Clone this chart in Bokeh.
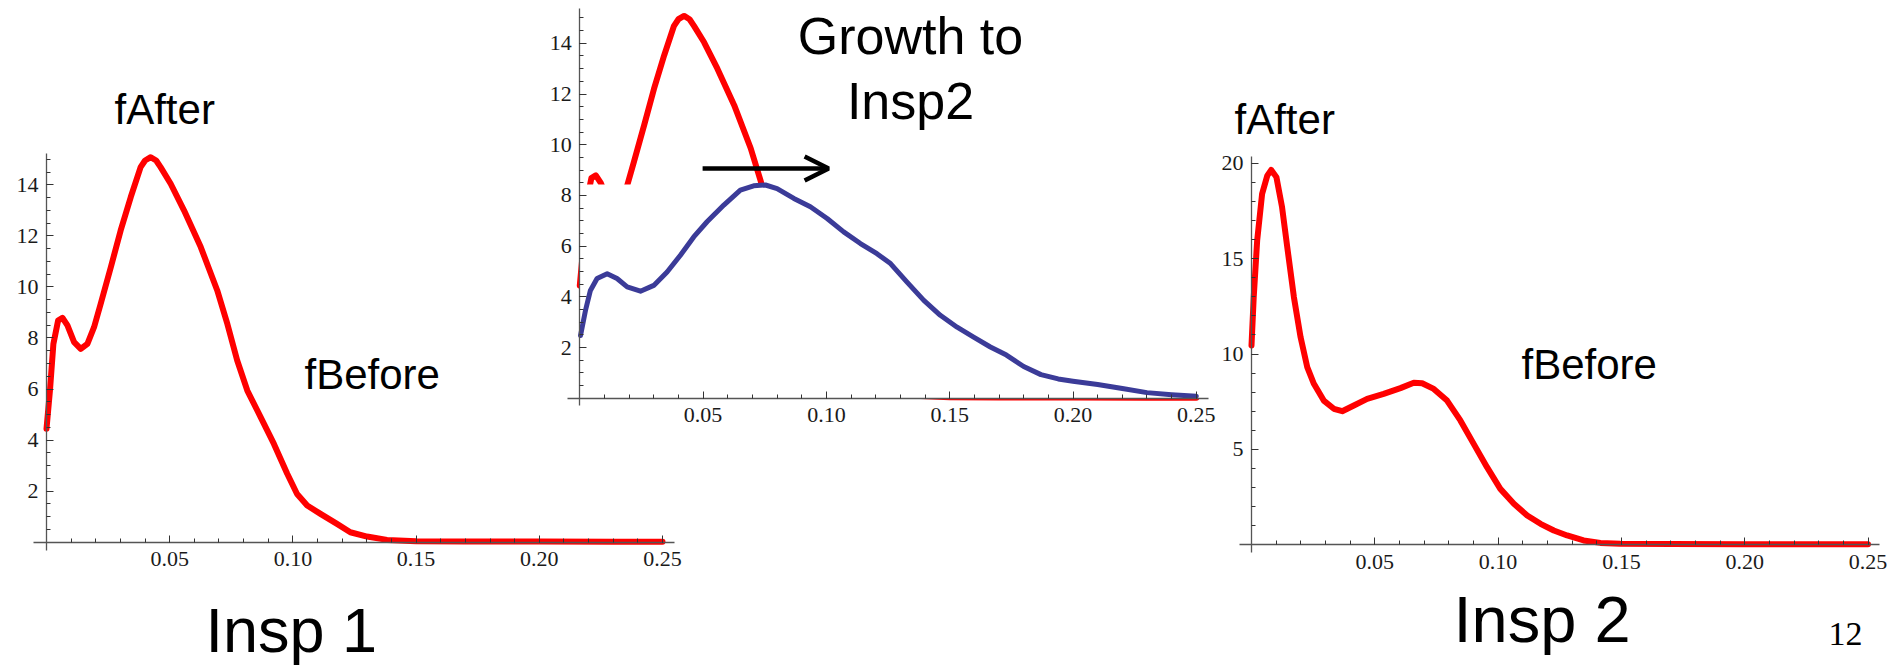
from bokeh.plotting import figure
from bokeh.models import (Range1d, LinearAxis, FixedTicker, NumeralTickFormatter,
                          Label, Arrow, OpenHead)
from bokeh.embed import file_html
from bokeh.resources import INLINE

# ---------------- data ----------------
x_ticks = [0.05, 0.10, 0.15, 0.20, 0.25]
y_ticks_insp1 = [2, 4, 6, 8, 10, 12, 14]
y_ticks_insp2 = [5, 10, 15, 20]

# Insp 1 distribution (red)
insp1_x = [0.0, 0.0014, 0.0028, 0.0047, 0.0065, 0.0085, 0.0112, 0.0139, 0.0166, 0.0193,
           0.022, 0.0261, 0.0301, 0.0342, 0.0382, 0.040, 0.0423, 0.0445, 0.0463, 0.0504,
           0.0558, 0.0626, 0.0693, 0.0734, 0.0774, 0.0815, 0.0869, 0.0923, 0.0977, 0.1017,
           0.1058, 0.1112, 0.1179, 0.1233, 0.1301, 0.1382, 0.150, 0.17, 0.20, 0.23, 0.25]
insp1_y = [4.44, 5.94, 7.77, 8.68, 8.79, 8.49, 7.84, 7.57, 7.77, 8.42,
           9.34, 10.77, 12.21, 13.52, 14.69, 14.95, 15.08, 14.95, 14.69, 14.04,
           13.0, 11.56, 9.86, 8.55, 7.12, 5.94, 4.90, 3.85, 2.68, 1.89,
           1.44, 1.11, 0.72, 0.39, 0.22, 0.09, 0.04, 0.03, 0.03, 0.02, 0.02]

# Growth distribution (blue)
growth_x = [0.0003, 0.0023, 0.0043, 0.007, 0.0111, 0.0151, 0.0192, 0.0246, 0.030, 0.0354,
            0.0408, 0.0462, 0.0516, 0.0584, 0.0651, 0.0705, 0.0753, 0.080, 0.0868, 0.0935,
            0.1003, 0.107, 0.1138, 0.1205, 0.126, 0.1327, 0.1395, 0.1462, 0.153, 0.1597,
            0.1665, 0.173, 0.18, 0.187, 0.194, 0.20, 0.21, 0.22, 0.23, 0.24, 0.25]
growth_y = [2.47, 3.46, 4.25, 4.72, 4.91, 4.72, 4.39, 4.22, 4.45, 4.98,
            5.64, 6.36, 6.96, 7.62, 8.21, 8.38, 8.41, 8.27, 7.88, 7.55,
            7.09, 6.56, 6.10, 5.70, 5.31, 4.58, 3.86, 3.27, 2.80, 2.41,
            2.02, 1.70, 1.25, 0.93, 0.76, 0.67, 0.54, 0.38, 0.22, 0.14, 0.08]

# Insp 2 distribution (red)
insp2_x = [0.0, 0.0009, 0.0023, 0.0043, 0.0064, 0.008, 0.0101, 0.0124, 0.0145, 0.0172,
           0.0199, 0.0226, 0.0253, 0.0293, 0.0334, 0.0368, 0.0415, 0.0469, 0.0536, 0.0604,
           0.0658, 0.0692, 0.0739, 0.0793, 0.0847, 0.0901, 0.0955, 0.1009, 0.1064, 0.1118,
           0.1172, 0.1226, 0.128, 0.1347, 0.1415, 0.1496, 0.17, 0.20, 0.23, 0.25]
insp2_y = [10.45, 12.98, 15.95, 18.39, 19.35, 19.65, 19.27, 17.69, 15.6, 12.98,
           10.88, 9.31, 8.44, 7.56, 7.13, 7.0, 7.30, 7.65, 7.91, 8.21,
           8.49, 8.47, 8.17, 7.56, 6.52, 5.29, 4.07, 2.93, 2.15, 1.54,
           1.10, 0.75, 0.49, 0.23, 0.10, 0.05, 0.04, 0.03, 0.03, 0.03]

# ---------------- layout ----------------
W, H = 1898, 666
OFF = 0
RED = "#ff0000"
BLUE = "#3b3b98"

p = figure(width=W, height=H, output_backend="svg", toolbar_location=None,
           x_axis_type=None, y_axis_type=None,
           x_range=Range1d(OFF, OFF + W), y_range=Range1d(OFF + H, OFF),
           min_border=0, min_border_left=0, min_border_right=0,
           min_border_top=0, min_border_bottom=0,
           outline_line_color=None, background_fill_color="white",
           border_fill_color="white")

# pixel placement of each panel: origin (0,0) position and pixels per unit
panels = {
    "L": dict(ox=46.0, oy=541.7, sx=2464.0, sy=25.53),
    "M": dict(ox=579.3, oy=397.7, sx=2466.0, sy=25.35),
    "R": dict(ox=1251.0, oy=544.3, sx=2466.0, sy=19.08),
}
for name, g in panels.items():
    p.extra_x_ranges[name] = Range1d((OFF - g["ox"]) / g["sx"], (OFF + W - g["ox"]) / g["sx"])
    p.extra_y_ranges[name] = Range1d((g["oy"] - (OFF + H)) / g["sy"], (g["oy"] - OFF) / g["sy"])

x_minor = [i / 100 for i in range(1, 26)]


def add_axes(name, xbounds, ybounds, yticks, yminor):
    xa = LinearAxis(x_range_name=name, y_range_name=name, fixed_location=0,
                    bounds=xbounds,
                    ticker=FixedTicker(ticks=x_ticks, minor_ticks=x_minor),
                    formatter=NumeralTickFormatter(format="0.00"))
    ya = LinearAxis(x_range_name=name, y_range_name=name, fixed_location=0,
                    bounds=ybounds,
                    ticker=FixedTicker(ticks=yticks, minor_ticks=yminor))
    for ax in (xa, ya):
        ax.axis_line_color = "#555555"
        ax.axis_line_width = 1.3
        ax.major_tick_line_color = "#333333"
        ax.minor_tick_line_color = "#333333"
        ax.major_tick_in = 7
        ax.major_tick_out = 0
        ax.minor_tick_in = 4
        ax.minor_tick_out = 0
        ax.major_label_text_font = "Liberation Serif"
        ax.major_label_text_font_size = "22px"
        ax.major_label_text_color = "#1a1a1a"
    xa.major_label_standoff = 10
    ya.major_label_standoff = 8
    p.add_layout(xa, "below")
    p.add_layout(ya, "left")


add_axes("L", (-0.0053, 0.2547), (-0.33, 15.24), y_ticks_insp1, [i / 2 for i in range(1, 31)])
add_axes("M", (-0.005, 0.2549), (-0.3, 15.36), y_ticks_insp1, [i / 2 for i in range(1, 31)])
add_axes("R", (-0.0049, 0.2548), (-0.39, 20.35), y_ticks_insp2, list(range(1, 21)))

# left panel curve
p.line(insp1_x, insp1_y, x_range_name="L", y_range_name="L",
       line_color=RED, line_width=6, line_join="round", line_cap="round")
# middle panel: red (partly hidden) then blue
p.line(insp1_x, insp1_y, x_range_name="M", y_range_name="M",
       line_color=RED, line_width=6, line_join="round", line_cap="round")
p.quad(left=[0.0], right=[0.262], bottom=[0.0], top=[8.43],
       x_range_name="M", y_range_name="M", fill_color="white", line_color=None)
p.line(growth_x, growth_y, x_range_name="M", y_range_name="M",
       line_color=BLUE, line_width=5, line_join="round", line_cap="round")
# right panel
p.line(insp2_x, insp2_y, x_range_name="R", y_range_name="R",
       line_color=RED, line_width=6, line_join="round", line_cap="round")

# arrow
p.add_layout(Arrow(end=OpenHead(size=24, line_width=4.5, line_color="black"),
                   x_start=0.0498, y_start=9.06, x_end=0.1009, y_end=9.06,
                   x_range_name="M", y_range_name="M",
                   line_width=4.5, line_color="black"))

SANS = "Liberation Sans"
SHIFT = 0.33  # empirical baseline correction, in em


def lab(x, y, text, size, font=SANS, align="left"):
    p.add_layout(Label(x=x, y=y - SHIFT * size, text=text, text_font=font,
                       text_font_size=f"{size}px",
                       text_baseline="alphabetic", text_align=align,
                       text_color="black"))


lab(114, 123, "fAfter", 42)
lab(304, 388, "fBefore", 42)
lab(910, 53, "Growth to", 52, align="center")
lab(910, 118, "Insp2", 52, align="center")
lab(1234, 133, "fAfter", 42)
lab(1521, 378, "fBefore", 42)
lab(205, 650, "Insp 1", 63)
lab(1453, 640, "Insp 2", 65)
lab(1828, 645, "12", 34, font="Liberation Serif")

open("out.html", "w").write(file_html(p, INLINE))
